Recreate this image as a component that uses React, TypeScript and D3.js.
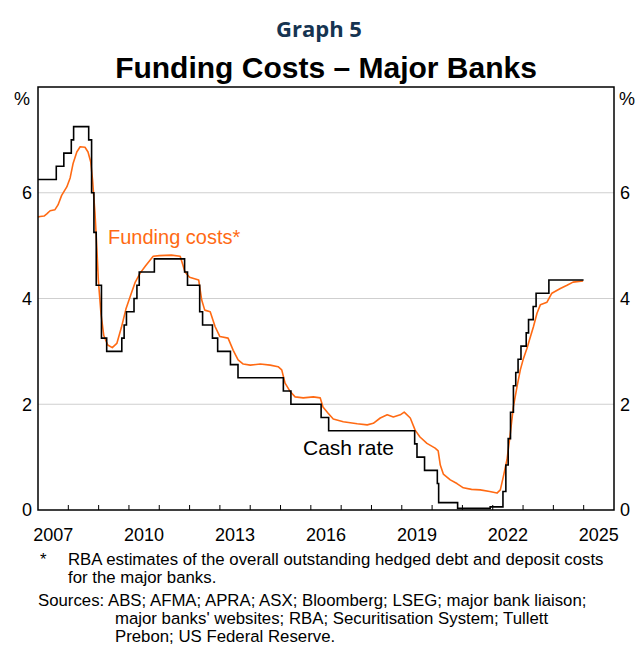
import React from "react";
import * as d3 from "d3";

// cash rate: [effective date, % ]
const cashRate: [string, number][] = [
  ["2007-01-01", 6.25], ["2007-08-09", 6.5], ["2007-11-08", 6.75], ["2008-02-06", 7.0],
  ["2008-03-05", 7.25], ["2008-09-03", 7.0], ["2008-10-08", 6.0], ["2008-11-05", 5.25],
  ["2008-12-03", 4.25], ["2009-02-04", 3.25], ["2009-04-08", 3.0], ["2009-10-07", 3.25],
  ["2009-11-04", 3.5], ["2009-12-02", 3.75], ["2010-03-03", 4.0], ["2010-04-07", 4.25],
  ["2010-05-05", 4.5], ["2010-11-03", 4.75], ["2011-11-02", 4.5], ["2011-12-07", 4.25],
  ["2012-05-02", 3.75], ["2012-06-06", 3.5], ["2012-10-03", 3.25], ["2012-12-05", 3.0],
  ["2013-05-08", 2.75], ["2013-08-07", 2.5], ["2015-02-04", 2.25], ["2015-05-06", 2.0],
  ["2016-05-04", 1.75], ["2016-08-03", 1.5], ["2019-06-05", 1.25], ["2019-07-03", 1.0],
  ["2019-10-02", 0.75], ["2020-03-04", 0.5], ["2020-03-20", 0.14], ["2020-11-04", 0.03],
  ["2021-12-01", 0.06], ["2022-05-04", 0.35], ["2022-06-08", 0.85], ["2022-07-06", 1.35],
  ["2022-08-03", 1.85], ["2022-09-07", 2.35], ["2022-10-05", 2.6], ["2022-11-02", 2.85],
  ["2022-12-07", 3.1], ["2023-02-08", 3.35], ["2023-03-08", 3.6], ["2023-05-03", 3.85],
  ["2023-06-07", 4.1], ["2023-11-08", 4.35], ["2024-12-31", 4.35],
];

// funding costs: [decimal year, %]
const fundingCosts: [number, number][] = [
  [2007.0, 5.54], [2007.07, 5.55], [2007.2, 5.56], [2007.29, 5.6], [2007.4, 5.66],
  [2007.56, 5.68], [2007.66, 5.77], [2007.78, 5.95], [2007.95, 6.11], [2008.06, 6.28],
  [2008.16, 6.56], [2008.28, 6.77], [2008.39, 6.87], [2008.55, 6.86], [2008.65, 6.77],
  [2008.74, 6.58], [2008.8, 6.24], [2008.88, 5.61], [2008.94, 4.97], [2008.99, 4.35],
  [2009.08, 3.7], [2009.17, 3.3], [2009.3, 3.12], [2009.45, 3.07], [2009.6, 3.15],
  [2009.75, 3.45], [2009.9, 3.8], [2010.05, 4.05], [2010.2, 4.3], [2010.37, 4.48],
  [2010.55, 4.62], [2010.8, 4.8], [2011.0, 4.81], [2011.4, 4.82], [2011.69, 4.8],
  [2011.85, 4.5], [2012.0, 4.4], [2012.3, 4.35], [2012.4, 3.97], [2012.5, 3.78],
  [2012.68, 3.75], [2012.84, 3.47], [2013.0, 3.28], [2013.27, 3.25], [2013.44, 3.02],
  [2013.6, 2.84], [2013.77, 2.76], [2014.0, 2.74], [2014.33, 2.76], [2014.66, 2.74],
  [2014.92, 2.71], [2015.04, 2.65], [2015.15, 2.4], [2015.32, 2.24], [2015.48, 2.14],
  [2015.75, 2.12], [2016.08, 2.14], [2016.31, 2.12], [2016.4, 1.95], [2016.57, 1.83],
  [2016.74, 1.72], [2017.07, 1.67], [2017.53, 1.63], [2017.86, 1.61], [2018.06, 1.64],
  [2018.29, 1.74], [2018.52, 1.8], [2018.72, 1.76], [2018.95, 1.8], [2019.08, 1.85],
  [2019.28, 1.74], [2019.44, 1.51], [2019.6, 1.38], [2019.83, 1.26], [2020.1, 1.17],
  [2020.2, 1.12], [2020.27, 0.85], [2020.37, 0.68], [2020.6, 0.57], [2020.82, 0.5],
  [2021.03, 0.42], [2021.3, 0.39], [2021.59, 0.38], [2021.9, 0.35], [2022.14, 0.32],
  [2022.25, 0.38], [2022.35, 0.63], [2022.47, 0.95], [2022.58, 1.45], [2022.68, 1.95],
  [2022.8, 2.33], [2022.91, 2.65], [2023.0, 2.84], [2023.13, 3.06], [2023.24, 3.27],
  [2023.34, 3.46], [2023.46, 3.72], [2023.57, 3.88], [2023.79, 3.93], [2023.95, 4.1],
  [2024.23, 4.19], [2024.45, 4.25], [2024.65, 4.31], [2024.98, 4.33],
];

const yTicks = [0, 2, 4, 6];
const gridLines = [2, 4, 6];
const yearLabels = [2007, 2010, 2013, 2016, 2019, 2022, 2025];
const yearTicks = d3.range(2008, 2026);

const footnote = [
  "RBA estimates of the overall outstanding hedged debt and deposit costs",
  "for the major banks.",
];
const sources = [
  "Sources: ABS; AFMA; APRA; ASX; Bloomberg; LSEG; major bank liaison;",
  "major banks' websites; RBA; Securitisation System; Tullett",
  "Prebon; US Federal Reserve.",
];

const W = 638;
const H = 646;
const margin = { top: 87, right: 24, bottom: 136, left: 38 };
const ORANGE = "#ff6a13";
const FONT = "Arial, 'Liberation Sans', sans-serif";

const toYear = (s: string) => {
  const d = d3.timeParse("%Y-%m-%d")(s)!;
  const y = d.getFullYear();
  const start = new Date(y, 0, 1).getTime();
  const end = new Date(y + 1, 0, 1).getTime();
  return y + (d.getTime() - start) / (end - start);
};

export default function App() {
  const x = d3.scaleLinear().domain([2007, 2026]).range([margin.left, W - margin.right]);
  const y = d3.scaleLinear().domain([0, 8]).range([H - margin.bottom, margin.top]);

  const cashLine = d3
    .line<[string, number]>()
    .x((d) => x(toYear(d[0])))
    .y((d) => y(d[1]))
    .curve(d3.curveStepAfter);

  const fundLine = d3
    .line<[number, number]>()
    .x((d) => x(d[0]))
    .y((d) => y(d[1]));

  const x0 = x.range()[0];
  const x1 = x.range()[1];
  const y0 = y.range()[0];
  const y1 = y.range()[1];

  return (
    <svg
      width={W}
      height={H}
      style={{ position: "absolute", left: 0, top: 0, background: "#fff" }}
      fontFamily={FONT}
    >
      <rect width={W} height={H} fill="#fff" />
      <text x={319} y={37} textAnchor="middle" fontFamily="'Open Sans', sans-serif" fontWeight={700} fontSize={22} fill="#163451">
        Graph 5
      </text>
      <text x={326} y={78} textAnchor="middle" fontWeight={700} fontSize={30} fill="#000">
        Funding Costs – Major Banks
      </text>

      {gridLines.map((v) => (
        <line key={v} x1={x0} x2={x1} y1={y(v)} y2={y(v)} stroke="#cfcfcf" strokeWidth={1.2} />
      ))}

      {yearTicks.map((t) => (
        <line key={t} x1={x(t)} x2={x(t)} y1={y0} y2={y0 - 5} stroke="#000" strokeWidth={1} />
      ))}

      <path d={fundLine(fundingCosts) ?? ""} fill="none" stroke={ORANGE} strokeWidth={1.6} strokeLinejoin="round" />
      <path d={cashLine(cashRate) ?? ""} fill="none" stroke="#000" strokeWidth={1.6} />

      <rect x={x0} y={y1} width={x1 - x0} height={y0 - y1} fill="none" stroke="#000" strokeWidth={1.5} />

      {yTicks.map((v) => (
        <g key={v} fontSize={18}>
          <text x={x0 - 6} y={y(v)} dy="0.35em" textAnchor="end">{v}</text>
          <text x={x1 + 6} y={y(v)} dy="0.35em" textAnchor="start">{v}</text>
        </g>
      ))}
      <text x={22} y={105} fontSize={18} textAnchor="middle">%</text>
      <text x={627} y={105} fontSize={18} textAnchor="middle">%</text>

      {yearLabels.map((t) => (
        <text key={t} x={x(t + 0.5)} y={541} fontSize={18} textAnchor="middle">{t}</text>
      ))}

      <text x={108} y={244} fontSize={20} fill={ORANGE}>Funding costs*</text>
      <text x={303} y={455} fontSize={21} fill="#000">Cash rate</text>

      <g fontSize={16.8}>
        <text x={40} y={565}>*</text>
        <text x={68} y={565}>{footnote[0]}</text>
        <text x={68} y={583}>{footnote[1]}</text>
        <text x={38} y={606}>{sources[0]}</text>
        <text x={115} y={624}>{sources[1]}</text>
        <text x={115} y={642}>{sources[2]}</text>
      </g>
    </svg>
  );
}
